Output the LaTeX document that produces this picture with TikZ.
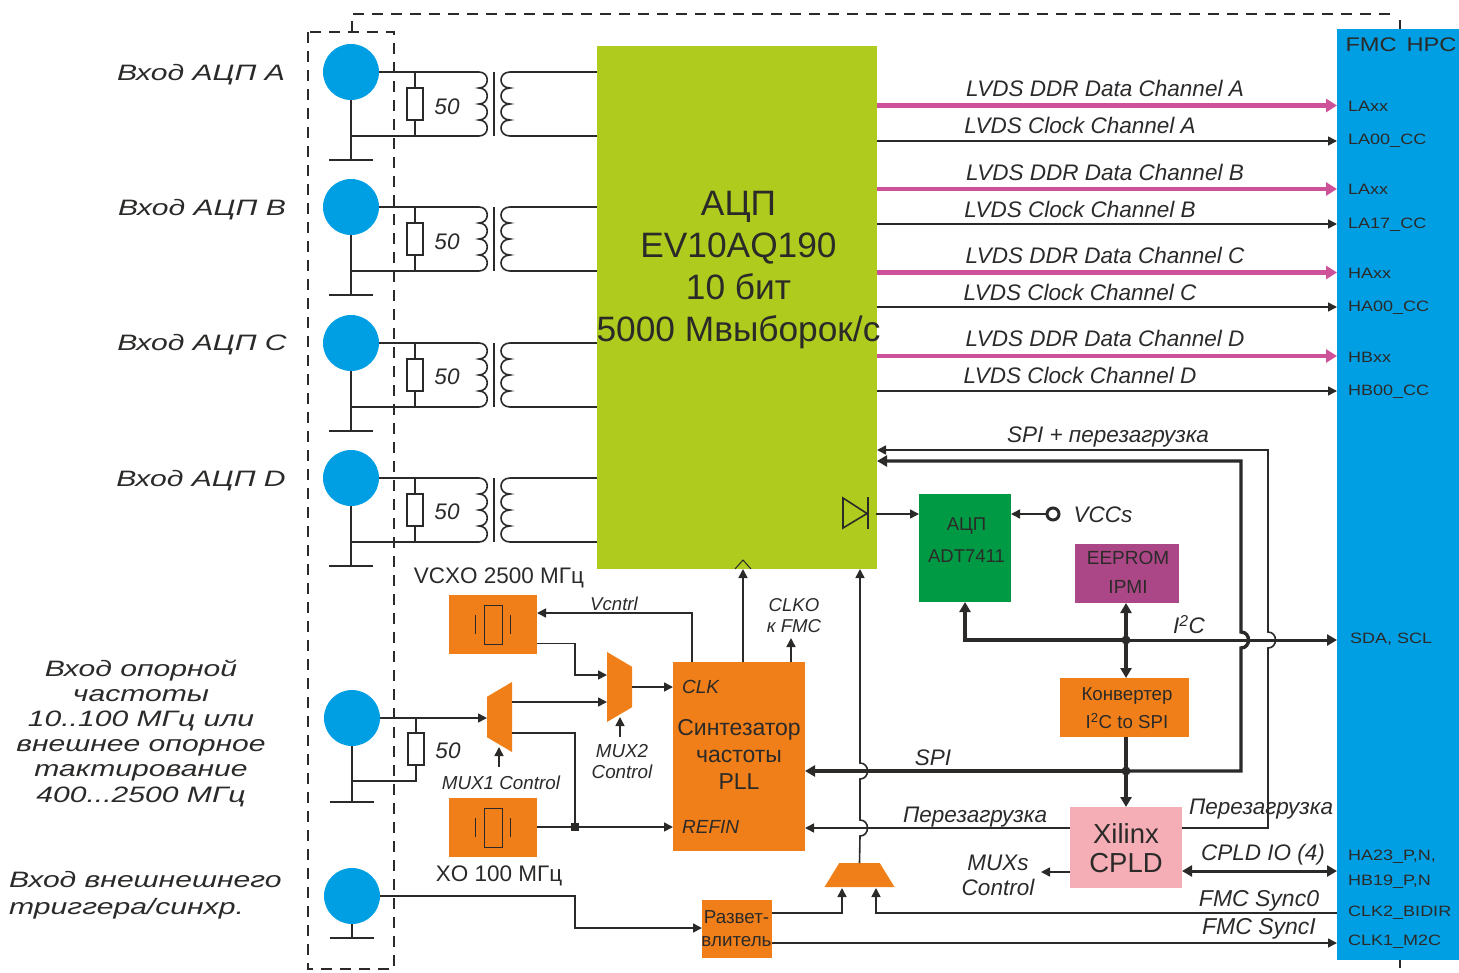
\documentclass[tikz,border=0pt]{standalone}
\usepackage{fontspec}
\setmainfont{Liberation Sans}
\newfontfamily\widefont[FakeStretch=1.35]{Liberation Sans}
\newfontfamily\fmcfont[FakeStretch=1.2]{Liberation Sans}
\usetikzlibrary{shapes.geometric, arrows.meta}

\definecolor{ink}{HTML}{2B2A29}
\definecolor{adcgreen}{HTML}{AFCB1D}
\definecolor{fmcblue}{HTML}{009FE3}
\definecolor{blockorange}{HTML}{F07F19}
\definecolor{ddrpink}{HTML}{CE5299}
\definecolor{tempgreen}{HTML}{009A44}
\definecolor{eeprompurple}{HTML}{AB4786}
\definecolor{cpldpink}{HTML}{F5AEB5}

\tikzset{
    wire/.style={draw=ink, line width=1.6pt},
    sig/.style={wire, -{Triangle[length=9pt,width=9pt]}},
    busline/.style={draw=ink, line width=3.4pt},
    bus/.style={busline, -{Triangle[length=10pt,width=11pt]}},
    ddr/.style={draw=ddrpink, line width=4.4pt, -{Triangle[length=11pt,width=13pt]}},
    box/.style={rectangle, fill=#1, inner sep=0pt, outer sep=0pt, anchor=north west, align=center, text=ink},
    socket/.style={circle, fill=fmcblue, minimum size=56pt, inner sep=0pt, outer sep=0pt},
    earth/.style={rectangle, fill=ink, minimum width=44pt, minimum height=1.8pt, inner sep=0pt, outer sep=0pt},
    res/.style={rectangle, draw=ink, line width=1.6pt, minimum width=16pt, minimum height=32pt, inner sep=0pt, outer sep=0pt},
    dot/.style={circle, fill=ink, minimum size=9pt, inner sep=0pt},
    muxshape/.style={trapezium, fill=blockorange, trapezium stretches=true, trapezium left angle=70, trapezium right angle=70, inner sep=2pt, outer sep=0pt},
    lab/.style={font=\fontsize{#1}{#1}\selectfont\itshape, text=ink, inner sep=0pt, align=center},
    lab/.default=22.5,
    txt/.style={font=\fontsize{#1}{#1}\selectfont, text=ink, inner sep=0pt, align=center},
    wide/.style={font=\widefont\fontsize{22.3}{25}\selectfont\itshape, text=ink, inner sep=0pt, align=center},
    pinlab/.style={font=\fmcfont\fontsize{15}{15}\selectfont, text=ink, inner sep=0pt, anchor=west},
    xfmr/.pic={
        \draw[wire] (0,0) .. controls (11,0) and (11,16) .. (0,16) .. controls (11,16) and (11,32) .. (0,32)
            .. controls (11,32) and (11,48) .. (0,48) .. controls (11,48) and (11,64) .. (0,64);
        \draw[wire] (15,0) -- (15,64);
        \draw[wire] (31,0) .. controls (19,0) and (19,16) .. (31,16) .. controls (19,16) and (19,32) .. (31,32)
            .. controls (19,32) and (19,48) .. (31,48) .. controls (19,48) and (19,64) .. (31,64);
        \coordinate (-tl) at (0,0);
        \coordinate (-bl) at (0,64);
        \coordinate (-tr) at (31,0);
        \coordinate (-br) at (31,64);
    },
    xtal/.pic={
        \draw[ink, line width=1pt] (-9,-19.5) rectangle (9,19.5);
        \draw[ink, line width=1pt] (-17.5,-9.5) -- (-17.5,9.5);
        \draw[ink, line width=1pt] (17.5,-9.5) -- (17.5,9.5);
    }
}

\begin{document}
\begin{tikzpicture}[x=1pt, y=-1pt]
    \useasboundingbox (0,0) rectangle (1459,972);

    % Large blocks
    \node[box=adcgreen, minimum width=280pt, minimum height=523pt] (adc) at (597,46) {};
    \node[txt=35.3] (adctext) at (738.5,270) {АЦП\\[6.7pt]EV10AQ190\\[6.7pt]10 бит\\[6.7pt]5000 Мвыборок/с};
    \node[box=fmcblue, minimum width=122pt, minimum height=931pt] (fmc) at (1337,29) {};
    \node[font=\fmcfont\fontsize{19.7}{19.7}\selectfont, text=ink, inner sep=0pt] (fmctext) at (1401,44.5) {FMC\, HPC};

    % Dashed frame
    \draw[wire, dash pattern=on 11pt off 8pt] (308,32) rectangle (394,969);
    \draw[wire, dash pattern=on 11pt off 8pt] (352,32) -- (352,14) -- (1397,14);
    \draw[wire] (1400,20) -- (1400,29);
    \draw[wire] (1400,960) -- (1400,968);

    % Input A
    \node[socket] (inA) at (351,72) {};
    \node[earth] (gndA) at (351,160) {};
    \node[res] (resA) at (415,104) {};
    \node[lab=22.5] (ohmA) at (447,106.5) {50};
    \node[wide] (nameA) at (201,74.5) {Вход АЦП А};
    \pic (trA) at (479,72) {xfmr};
    \draw[wire] (inA.east) -- (trA-tl);
    \draw[wire] (inA.south) -- (gndA.north);
    \draw[wire] (inA |- trA-bl) -- (trA-bl);
    \draw[wire] (resA.north) -- (resA.north |- trA-tl);
    \draw[wire] (resA.south) -- (resA.south |- trA-bl);
    \draw[wire] (trA-tr) -- (adc.west |- trA-tr);
    \draw[wire] (trA-br) -- (adc.west |- trA-br);

    % Input B
    \node[socket] (inB) at (351,207) {};
    \node[earth] (gndB) at (351,295) {};
    \node[res] (resB) at (415,239) {};
    \node[lab=22.5] (ohmB) at (447,241.5) {50};
    \node[wide] (nameB) at (202,209.5) {Вход АЦП В};
    \pic (trB) at (479,207) {xfmr};
    \draw[wire] (inB.east) -- (trB-tl);
    \draw[wire] (inB.south) -- (gndB.north);
    \draw[wire] (inB |- trB-bl) -- (trB-bl);
    \draw[wire] (resB.north) -- (resB.north |- trB-tl);
    \draw[wire] (resB.south) -- (resB.south |- trB-bl);
    \draw[wire] (trB-tr) -- (adc.west |- trB-tr);
    \draw[wire] (trB-br) -- (adc.west |- trB-br);

    % Input C
    \node[socket] (inC) at (351,343) {};
    \node[earth] (gndC) at (351,431) {};
    \node[res] (resC) at (415,375) {};
    \node[lab=22.5] (ohmC) at (447,376.5) {50};
    \node[wide] (nameC) at (202,344.5) {Вход АЦП С};
    \pic (trC) at (479,343) {xfmr};
    \draw[wire] (inC.east) -- (trC-tl);
    \draw[wire] (inC.south) -- (gndC.north);
    \draw[wire] (inC |- trC-bl) -- (trC-bl);
    \draw[wire] (resC.north) -- (resC.north |- trC-tl);
    \draw[wire] (resC.south) -- (resC.south |- trC-bl);
    \draw[wire] (trC-tr) -- (adc.west |- trC-tr);
    \draw[wire] (trC-br) -- (adc.west |- trC-br);

    % Input D
    \node[socket] (inD) at (351,478) {};
    \node[earth] (gndD) at (351,566) {};
    \node[res] (resD) at (415,510) {};
    \node[lab=22.5] (ohmD) at (447,511.5) {50};
    \node[wide] (nameD) at (201,481) {Вход АЦП D};
    \pic (trD) at (479,478) {xfmr};
    \draw[wire] (inD.east) -- (trD-tl);
    \draw[wire] (inD.south) -- (gndD.north);
    \draw[wire] (inD |- trD-bl) -- (trD-bl);
    \draw[wire] (resD.north) -- (resD.north |- trD-tl);
    \draw[wire] (resD.south) -- (resD.south |- trD-bl);
    \draw[wire] (trD-tr) -- (adc.west |- trD-tr);
    \draw[wire] (trD-br) -- (adc.west |- trD-br);

    % Data and clock channels
    \draw[ddr] (adc.east |- 0,105.5) -- (fmc.west |- 0,105.5);
    \draw[sig] (adc.east |- 0,141) -- (fmc.west |- 0,141);
    \draw[ddr] (adc.east |- 0,189) -- (fmc.west |- 0,189);
    \draw[sig] (adc.east |- 0,224) -- (fmc.west |- 0,224);
    \draw[ddr] (adc.east |- 0,272.5) -- (fmc.west |- 0,272.5);
    \draw[sig] (adc.east |- 0,307) -- (fmc.west |- 0,307);
    \draw[ddr] (adc.east |- 0,356) -- (fmc.west |- 0,356);
    \draw[sig] (adc.east |- 0,391) -- (fmc.west |- 0,391);
    \node[lab] (ddrA) at (1105,88.5) {LVDS DDR Data Channel A};
    \node[lab] (clkA) at (1080,125.5) {LVDS Clock Channel A};
    \node[lab] (ddrB) at (1105,172.5) {LVDS DDR Data Channel B};
    \node[lab] (clkB) at (1080,209.5) {LVDS Clock Channel B};
    \node[lab] (ddrC) at (1105,255.5) {LVDS DDR Data Channel C};
    \node[lab] (clkC) at (1080,292.5) {LVDS Clock Channel C};
    \node[lab] (ddrD) at (1105,338.5) {LVDS DDR Data Channel D};
    \node[lab] (clkD) at (1080,375.5) {LVDS Clock Channel D};

    % FMC pins
    \node[pinlab] (pinA) at (1348,106) {LAxx};
    \node[pinlab] (pinAc) at (1348,140.5) {LA00\_CC};
    \node[pinlab] (pinB) at (1348,189) {LAxx};
    \node[pinlab] (pinBc) at (1348,224.5) {LA17\_CC};
    \node[pinlab] (pinC) at (1348,273) {HAxx};
    \node[pinlab] (pinCc) at (1348,307.5) {HA00\_CC};
    \node[pinlab] (pinD) at (1348,357) {HBxx};
    \node[pinlab] (pinDc) at (1348,391.5) {HB00\_CC};
    \node[pinlab] (pinI2c) at (1350,639) {SDA, SCL};
    \node[pinlab] (pinIoa) at (1348,857) {HA23\_P,N,};
    \node[pinlab] (pinIob) at (1348,881.5) {HB19\_P,N};
    \node[pinlab] (pinSync) at (1348,913) {CLK2\_BIDIR};
    \node[pinlab] (pinClk) at (1348,942) {CLK1\_M2C};

    % Temperature sensor
    \node[box=tempgreen, minimum width=92pt, minimum height=108pt] (adt) at (919,494) {};
    \node[txt=18.5] (adttext) at (966.5,540) {АЦП\\[13.5pt]ADT7411};
    \node[circle, draw=ink, fill=white, line width=3pt, minimum size=12pt, inner sep=0pt] (vcc) at (1053,514) {};
    \node[lab=22.5] (vcctext) at (1103,514.5) {VCCs};
    \draw[wire, line join=miter] (843,498) -- (867,513.5) -- (843,528) -- cycle;
    \draw[wire] (868,497) -- (868,529);
    \draw[sig] (876,514) -- (adt.west |- 0,514);
    \draw[sig] (vcc.west) -- (adt.east |- vcc);

    % EEPROM, converter and CPLD
    \node[box=eeprompurple, minimum width=104pt, minimum height=59pt] (eeprom) at (1075,544) {};
    \node[txt=19] (eepromtext) at (1128,572.5) {EEPROM\\[10pt]IPMI};
    \node[box=blockorange, minimum width=129pt, minimum height=59pt] (conv) at (1060,678) {};
    \node[txt=18.7] (convtext) at (1127,708.5) {Конвертер\\[7.5pt]I\textsuperscript{2}C to SPI};
    \node[box=cpldpink, minimum width=112pt, minimum height=81pt] (cpld) at (1070,807) {};
    \node[txt=27.5] (cpldtext) at (1126,848.5) {Xilinx\\[1.5pt]CPLD};
    \node[dot] (joinI) at (1126,640) {};
    \node[dot] (joinS) at (1126,771) {};

    % I2C bus
    \draw[bus] (joinI.center) -- (joinI |- eeprom.south);
    \draw[bus] (joinI.center) -- (joinI |- conv.north);
    \draw[busline] (joinS |- conv.south) -- (joinS.center);
    \draw[bus] (joinS.center) -- (joinS |- cpld.north);
    \draw[bus] (joinI.center) -| (adt.south);
    \draw[bus, line width=3pt] (joinI.center) -- (fmc.west |- joinI);
    \node[lab=22.5] (i2ctext) at (1189,624.5) {I\textsuperscript{2}C};

    % SPI bus with hop over I2C
    \draw[bus, line join=miter] (joinS.center) -- (1241,771) -- (1241,648)
        .. controls +(10,0) and +(10,0) .. ++(0,-16) -- (1241,461) -- (adc.east |- 0,461);
    \node[lab=22.5] (spitext) at (933,757.5) {SPI};
    \draw[bus] (joinS.center) -- (805,771);

    % Reload line with hop over I2C
    \draw[sig, line join=miter] (cpld.east |- 0,828) -- (1268,828) -- (1268,648)
        .. controls +(10,0) and +(10,0) .. ++(0,-16) -- (1268,450) -- (adc.east |- 0,450);
    \node[lab] (spireload) at (1108,437) {SPI + перезагрузка};
    \node[lab] (reloadR) at (1261,809) {Перезагрузка};
    \node[lab] (reloadL) at (975,817) {Перезагрузка};
    \draw[sig] (cpld.west |- 0,828) -- (805,828);

    % CPLD signals
    \draw[sig] (cpld.west |- 0,872) -- (1041,872);
    \node[lab=22.5] (muxs) at (998,875) {MUXs\\[2.5pt]Control};
    \draw[busline, line width=3pt, {Triangle[length=10pt,width=11pt]}-{Triangle[length=10pt,width=11pt]}] (cpld.east |- 0,871) -- (fmc.west |- 0,871);
    \node[lab] (cpldio) at (1263,855) {CPLD IO (4)};

    % Clock synthesiser
    \node[box=blockorange, minimum width=132pt, minimum height=189pt] (pll) at (673,662) {};
    \node[txt=23] (plltext) at (739,754) {Синтезатор\\[4pt]частоты\\[4pt]PLL};
    \node[lab=19, anchor=west] (clktext) at (682,686.5) {CLK};
    \node[lab=19, anchor=west] (refintext) at (682,826.5) {REFIN};
    \node[lab=18.6] (clkotext) at (794,616) {CLKO\\[2.4pt]к FMC};
    \coordinate (pllV) at (692,662);
    \coordinate (pllA) at (743,662);
    \coordinate (pllO) at (791,662);
    \draw[sig] (pllA) -- (pllA |- adc.south);
    \draw[wire, line width=1pt] (735,569) -- (743,560) -- (751,569);
    \draw[sig] (pllO) -- (791,638);

    % Oscillators
    \node[box=blockorange, minimum width=88pt, minimum height=59pt] (vcxo) at (449,595) {};
    \pic at (493,624.5) {xtal};
    \node[txt=22.5] (vcxotext) at (499,578) {VCXO 2500 МГц};
    \node[box=blockorange, minimum width=88pt, minimum height=59pt] (xo) at (449,798) {};
    \pic at (493,827.5) {xtal};
    \node[txt=22.5] (xotext) at (499,876) {XO 100 МГц};
    \draw[sig] (pllV) |- (vcxo.east |- 0,613);
    \node[lab=18.6] (vctext) at (614,603.5) {Vcntrl};

    % Reference input
    \node[socket] (inR) at (352,718) {};
    \node[earth] (gndR) at (352,802) {};
    \node[res] (resR) at (416,749) {};
    \node[lab=22.5] (ohmR) at (448,750.5) {50};
    \node[wide] (nameR) at (141,733) {Вход опорной\\[0.2pt]частоты\\[0.2pt]10..100 МГц или\\[0.2pt]внешнее опорное\\[0.2pt]тактирование\\[0.2pt]400...2500 МГц};
    \draw[wire] (inR.south) -- (gndR.north);
    \draw[wire] (resR.north) -- (resR.north |- inR);
    \draw[wire] (inR |- 0,781) -| (resR.south);

    % Multiplexers
    \node[muxshape, rotate=90, minimum width=70pt, minimum height=25pt] (muxA) at (499.5,717) {};
    \node[muxshape, rotate=-90, minimum width=70pt, minimum height=25pt] (muxB) at (619.5,687) {};
    \node[muxshape, minimum width=70pt, minimum height=24pt] (muxC) at (859.5,875) {};
    \node[lab=18.8] (muxAtext) at (501,782.5) {MUX1 Control};
    \node[lab=18.8] (muxBtext) at (622,761.5) {MUX2\\[2.2pt]Control};
    \coordinate (muxAup) at (499,767);
    \coordinate (muxBup) at (620,737);
    \draw[sig] (muxAup) -- (499,747);
    \draw[sig] (muxBup) -- (620,717);
    \draw[sig] (inR.east) -- (487,718);
    \draw[sig] (512,702) -- (607,702);
    \draw[sig] (vcxo.east |- 0,643.5) -- (575,643.5) -- (575,675) -- (607,675);
    \draw[sig] (632,687) -- (pll.west |- 0,687);

    % XO path
    \node[rectangle, fill=ink, minimum size=8pt, inner sep=0pt] (joinX) at (575,827) {};
    \draw[wire] (512,733) -| (joinX);
    \draw[sig] (xo.east |- joinX) -- (pll.west |- joinX);

    % Trigger input and splitter
    \node[socket] (inT) at (352,896) {};
    \node[earth] (gndT) at (352,938) {};
    \node[wide, align=left, anchor=west] (nameT) at (9,895) {Вход внешнешнего\\[2pt]триггера/синхр.};
    \node[box=blockorange, minimum width=70pt, minimum height=58pt] (split) at (702,900) {};
    \node[txt=18.8] (splittext) at (736.5,928.5) {Развет-\\[4pt]влитель};
    \draw[wire] (inT.south) -- (gndT.north);
    \draw[sig] (inT.east) -- (575,896) -- (575,928) -- (split.west |- 0,928);
    \draw[sig] (split.east |- 0,913) -- (842,913) -- (842,888);
    \draw[sig] (fmc.west |- 0,913) -- (876,913) -- (876,888);
    \draw[sig] (split.east |- 0,943) -- (fmc.west |- 0,943);
    \node[lab=23] (sync0) at (1259,900.5) {FMC Sync0};
    \node[lab=23] (sync1) at (1259,928.5) {FMC SyncI};

    % Trigger line up to the ADC, hops over SPI and reload
    \draw[sig, line join=miter] (muxC.north) -- (860,836)
        .. controls +(10,0) and +(10,0) .. ++(0,-16) -- (860,779)
        .. controls +(10,0) and +(10,0) .. ++(0,-16) -- (860,569);

\end{tikzpicture}
\end{document}
